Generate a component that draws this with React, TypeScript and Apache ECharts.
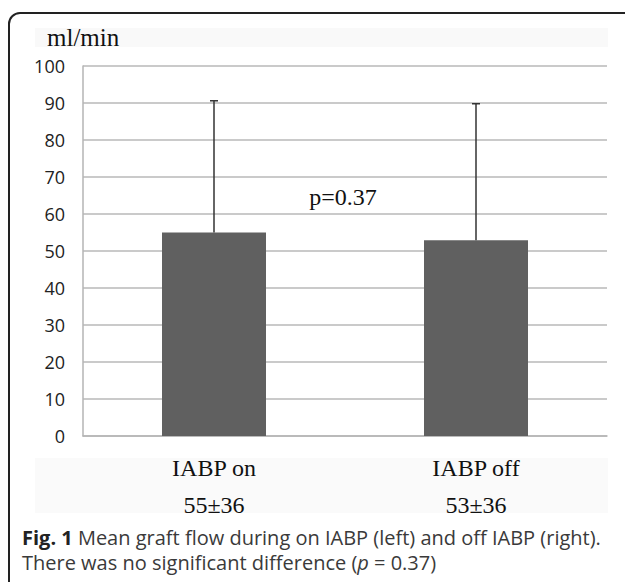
import React, { useEffect, useRef } from "react";
import * as echarts from "echarts";

const categories = ["IABP on", "IABP off"];
const summaries = ["55±36", "53±36"];
const means = [55, 52.9];
const errorTops = [90.6, 89.8];
const yTicks = { min: 0, max: 100, interval: 10 };
const pLabel = "p=0.37";
const unitLabel = "ml/min";

export default function App() {
  const ref = useRef<HTMLDivElement>(null);
  useEffect(() => {
    if (!ref.current) return;
    const chart = echarts.init(ref.current, null, { renderer: "svg" });
    const serif = "Liberation Serif";
    const sans = "Open Sans";
    chart.setOption({
      animation: false,
      backgroundColor: "#ffffff",
      grid: { left: 83, right: 18, top: 66, bottom: 146 },
      xAxis: {
        type: "category",
        data: categories,
        axisLine: { show: true, lineStyle: { color: "#b5b5b5", width: 1.5 } },
        axisTick: { show: false },
        axisLabel: {
          margin: 13,
          fontFamily: serif,
          fontSize: 24,
          color: "#111",
          lineHeight: 37,
          formatter: (v: string, i: number) => `${v}\n${summaries[i]}`,
        },
      },
      yAxis: {
        type: "value",
        min: yTicks.min,
        max: yTicks.max,
        interval: yTicks.interval,
        axisLine: { show: true, lineStyle: { color: "#b5b5b5", width: 1.5 } },
        axisTick: { show: false },
        axisLabel: { margin: 18, fontFamily: sans, fontSize: 18, color: "#222" },
        splitLine: { lineStyle: { color: "#b8b8b8", width: 1.5 } },
      },
      graphic: [
        { type: "rect", z: -10, shape: { x: 35, y: 28, width: 573, height: 19 }, style: { fill: "#f9f9f9" } },
        { type: "rect", z: -10, shape: { x: 35, y: 458, width: 573, height: 55 }, style: { fill: "#fafafa" } },
        {
          type: "rect",
          shape: { x: 9, y: 13, width: 640, height: 620, r: [11, 0, 0, 0] },
          style: { fill: "none", stroke: "#222", lineWidth: 2 },
        },
        {
          type: "text",
          x: 47,
          y: 37,
          style: { text: unitLabel, fontSize: 25, fontFamily: serif, fill: "#111", verticalAlign: "middle" },
        },
        {
          type: "text",
          x: 343,
          y: 197,
          style: { text: pLabel, fontSize: 24, fontFamily: serif, fill: "#111", align: "center", verticalAlign: "middle" },
        },
        {
          type: "text",
          x: 22,
          y: 537,
          style: {
            text: "{b|Fig. 1} Mean graft flow during on IABP (left) and off IABP (right).",
            fontSize: 20,
            fontFamily: sans,
            fill: "#3a3a3a",
            verticalAlign: "middle",
            rich: { b: { fontWeight: "bold", fontSize: 20, fontFamily: sans, fill: "#222" } },
          },
        },
        {
          type: "text",
          x: 22,
          y: 562,
          style: {
            text: "There was no significant difference ({i|p} = 0.37)",
            fontSize: 20,
            fontFamily: sans,
            fill: "#3a3a3a",
            verticalAlign: "middle",
            rich: { i: { fontStyle: "italic", fontSize: 20, fontFamily: sans, fill: "#3a3a3a" } },
          },
        },
      ],
      series: [
        {
          type: "bar",
          data: means,
          barWidth: 104,
          itemStyle: { color: "#606060" },
          z: 2,
        },
        {
          type: "custom",
          z: 3,
          data: errorTops.map((t, i) => [i, means[i], t]),
          renderItem: (params: any, api: any) => {
            const x = api.value(0);
            const base = api.coord([x, api.value(1)]);
            const top = api.coord([x, api.value(2)]);
            const style = { stroke: "#333", lineWidth: 1.5 };
            return {
              type: "group",
              children: [
                { type: "line", shape: { x1: base[0], y1: base[1], x2: top[0], y2: top[1] }, style },
                { type: "line", shape: { x1: top[0] - 4, y1: top[1], x2: top[0] + 4, y2: top[1] }, style },
              ],
            };
          },
        },
      ],
    });
    return () => chart.dispose();
  }, []);
  return <div ref={ref} style={{ position: "fixed", left: 0, top: 0, width: 625, height: 582 }} />;
}
